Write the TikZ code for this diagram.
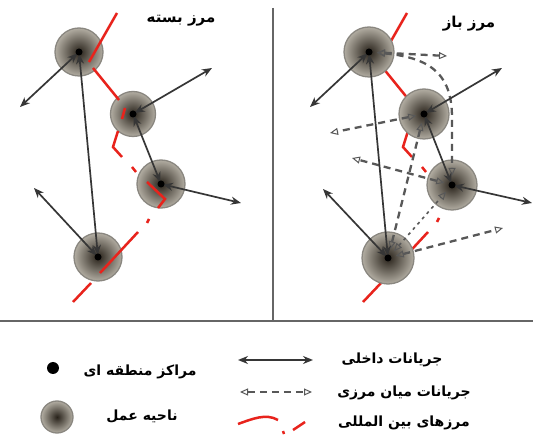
\documentclass[tikz,border=0pt]{standalone}
\usepackage{fontspec}
\newfontfamily\arabicfont[Script=Arabic]{DejaVu Sans}
\TeXXeTstate=1
\usetikzlibrary{arrows.meta}
\definecolor{zin}{HTML}{28221A}
\definecolor{zout}{HTML}{B2ADA2}
\definecolor{zedge}{HTML}{8A8780}
\definecolor{bred}{HTML}{E8231C}
\definecolor{flowc}{HTML}{363636}
\definecolor{xflowc}{HTML}{585858}
\begin{document}
\begin{tikzpicture}[x=1pt,y=-1pt,
  zone/.style={circle, minimum size=#1, inner sep=0pt, draw=zedge, line width=1.3pt, inner color=zin, outer color=zout},
  zone/.default=48pt,
  ctr/.style={circle, fill=black, minimum size=7pt, inner sep=0pt},
  flow/.style={draw=flowc, line width=1.7pt, {Stealth[length=10pt,width=8pt]}-{Stealth[length=10pt,width=8pt]}},
  xflow/.style={draw=xflowc, line width=2.3pt, dash pattern=on 7pt off 5pt,
     {Triangle[open,length=8pt,width=7pt,line width=1pt]}-{Triangle[open,length=8pt,width=7pt,line width=1pt]}},
  xdot/.style={xflow, line width=1.6pt, dash pattern=on 3pt off 4pt},
  border/.style={draw=bred, line width=2.5pt},
  lbl/.style={font=\arabicfont\bfseries\fontsize{14}{16}\selectfont, inner sep=0pt},
  ttl/.style={font=\arabicfont\bfseries\fontsize{15}{17}\selectfont, inner sep=0pt}]
\useasboundingbox (0,0) rectangle (533,438);
\fill[white] (0,0) rectangle (533,438);

% frame lines
\draw[gray!80!black, line width=1.6pt] (0,321) -- (533,321);
\draw[gray!80!black, line width=1.6pt] (273,8) -- (273,321);

% ---------------- left panel ----------------
\node[ttl] (tL) at (181,21) {\beginR مرز بسته\endR};
\node[zone] (A) at (79,52) {};
\node[zone=45pt] (B) at (133,114) {};
\node[zone] (C) at (161,184) {};
\node[zone] (D) at (98,257) {};
% borders
\draw[border] (117,13) -- (89,62);
\draw[border] (93,68) -- (119,100);
\draw[border] (125,108) -- (122,119);
\draw[border] (118,131) -- (113,147) -- (122,157);
\draw[border] (132,167) -- (136,172);
\draw[border] (147,182) -- (165,199) -- (158,208);
\draw[border] (149,219) -- (147,223);
\draw[border] (138,232) -- (100,273);
\draw[border] (91,283) -- (73,302);
% flows
\coordinate (a1) at (20,107);
\coordinate (b1) at (212,68);
\coordinate (c1) at (241,203);
\coordinate (d1) at (34,188);
\draw[flow, shorten <=2pt] (A.center) -- (a1);
\draw[flow, shorten <=2pt, shorten >=2pt] (A.center) -- (D.center);
\draw[flow, shorten <=2pt] (B.center) -- (b1);
\draw[flow, shorten <=2pt, shorten >=2pt] (B.center) -- (C.center);
\draw[flow, shorten <=2pt] (C.center) -- (c1);
\draw[flow, shorten <=2pt] (D.center) -- (d1);
\node[ctr] (ca) at (A) {};
\node[ctr] (cb) at (B) {};
\node[ctr] (cc) at (C) {};
\node[ctr] (cd) at (D) {};

% ---------------- right panel ----------------
\node[ttl] (tR) at (469,24) {\beginR مرز باز\endR};
\draw[border] (407,13) -- (379,62);
\draw[border] (383,68) -- (409,100);
\draw[border] (408,131) -- (403,147) -- (412,157);
\draw[border] (422,167) -- (426,172);
\draw[border] (439,218) -- (437,222);
\draw[border] (428,232) -- (390,273);
\draw[border] (381,283) -- (363,302);
\node[zone=50pt] (P) at (369,52) {};
\node[zone=50pt] (Q) at (424,114) {};
\node[zone=50pt] (R) at (452,185) {};
\node[zone=52pt] (S) at (388,258) {};
% cross-border flows
\coordinate (p2) at (447,56);
\coordinate (q2) at (330,133);
\coordinate (r2) at (352,158);
\coordinate (s2) at (503,228);
\draw[xflow, shorten <=8pt] (P.center) -- (p2);
\draw[xflow, shorten <=8pt, shorten >=9pt] (P.center) .. controls (435,58) and (452,78) .. (452,118) -- (R.center);
\draw[xflow, shorten <=8pt] (Q.center) -- (q2);
\draw[xflow, shorten <=8pt] (R.center) -- (r2);
\draw[xflow, shorten <=8pt] (S.center) -- (s2);
\draw[xflow, shorten <=9pt, shorten >=9pt] (S.center) -- (Q.center);
\draw[xdot, shorten <=9pt, shorten >=9pt] (S.center) -- (R.center);
% internal flows
\coordinate (p1) at (310,107);
\coordinate (q1) at (502,68);
\coordinate (r1) at (532,203);
\coordinate (s1) at (323,189);
\draw[flow, shorten <=2pt] (P.center) -- (p1);
\draw[flow, shorten <=2pt, shorten >=2pt] (P.center) -- (S.center);
\draw[flow, shorten <=2pt] (Q.center) -- (q1);
\draw[flow, shorten <=2pt, shorten >=2pt] (Q.center) -- (R.center);
\draw[flow, shorten <=2pt] (R.center) -- (r1);
\draw[flow, shorten <=2pt] (S.center) -- (s1);
\node[ctr] (cp) at (P) {};
\node[ctr] (cq) at (Q) {};
\node[ctr] (cr) at (R) {};
\node[ctr] (cs) at (S) {};

% ---------------- legend ----------------
\node[circle, fill=black, minimum size=12pt, inner sep=0pt] (lc) at (53,368) {};
\node[lbl] (lct) at (140,372) {\beginR مراکز منطقه ای\endR};
\node[zone=32pt] (lz) at (57,417) {};
\node[lbl] (lzt) at (142,416) {\beginR ناحیه عمل\endR};
\coordinate (lf1) at (238,360);
\coordinate (lf2) at (313,360);
\draw[flow] (lf1) -- (lf2);
\node[lbl] (lft) at (392,360) {\beginR جریانات داخلی\endR};
\coordinate (lx1) at (240,392);
\coordinate (lx2) at (312,392);
\draw[xflow, line width=1.8pt] (lx1) -- (lx2);
\node[lbl] (lxt) at (404,393) {\beginR جریانات میان مرزی\endR};
\coordinate (lb1) at (238,424);
\coordinate (lb2) at (278,420);
\coordinate (lb3) at (283,431);
\coordinate (lb4) at (284,434);
\coordinate (lb5) at (293,430);
\coordinate (lb6) at (305,422);
\draw[border] (lb1) .. controls (252,419) and (266,413) .. (lb2);
\draw[border] (lb3) -- (lb4);
\draw[border] (lb5) -- (lb6);
\node[lbl] (lbt) at (404,423) {\beginR مرزهای بین المللی\endR};
\end{tikzpicture}
\end{document}
